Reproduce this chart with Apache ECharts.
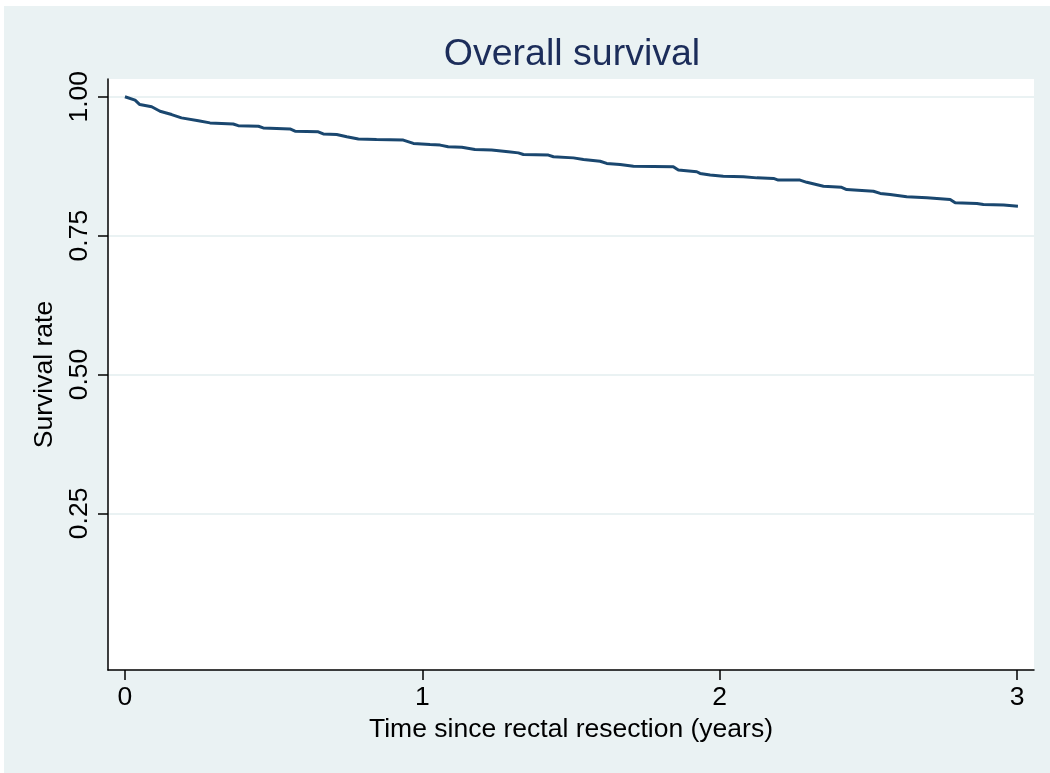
<!DOCTYPE html>
<html>
<head>
<meta charset="utf-8">
<script src="https://cdn.jsdelivr.net/npm/echarts@6/dist/echarts.min.js"></script>
<style>
html,body{margin:0;padding:0;background:#ffffff;}
#chart{position:absolute;left:4px;top:6px;width:1046px;height:767px;}
</style>
</head>
<body>
<div id="chart"></div>
<script>
// Kaplan-Meier estimate
const timeYears = [0,0.034,0.05,0.09,0.118,0.157,0.19,0.247,0.286,0.364,0.381,0.449,0.465,0.555,0.572,0.65,0.667,0.712,0.746,0.785,0.846,0.936,0.97,1.026,1.06,1.087,1.133,1.177,1.233,1.289,1.323,1.34,1.424,1.441,1.508,1.542,1.598,1.62,1.665,1.71,1.844,1.861,1.923,1.934,1.968,2.012,2.08,2.125,2.181,2.197,2.27,2.293,2.349,2.41,2.427,2.517,2.54,2.573,2.629,2.697,2.775,2.792,2.865,2.887,2.955,3.003];
const survival  = [1.0,0.994,0.986,0.982,0.974,0.968,0.962,0.957,0.953,0.951,0.948,0.947,0.944,0.942,0.938,0.937,0.933,0.932,0.928,0.924,0.923,0.922,0.916,0.914,0.913,0.91,0.909,0.905,0.904,0.901,0.899,0.896,0.895,0.892,0.89,0.887,0.884,0.88,0.878,0.875,0.874,0.868,0.865,0.862,0.859,0.857,0.856,0.854,0.853,0.85,0.85,0.846,0.839,0.837,0.833,0.83,0.826,0.824,0.82,0.818,0.815,0.809,0.808,0.806,0.805,0.803];
const xTicks = [0,1,2,3];
const yTicks = [0.25,0.5,0.75,1.0];

const chart = echarts.init(document.getElementById('chart'));
const font = 'Liberation Sans, Helvetica, Arial, sans-serif';
chart.setOption({
  backgroundColor: '#eaf2f3',
  animation: false,
  title: {
    text: 'Overall survival',
    left: 563, top: 25, textAlign: 'center',
    textStyle: {fontFamily: font, fontSize: 37.5, fontWeight: 'normal', color: '#1c2d5a'}
  },
  grid: {left: 104, top: 73, right: 16, bottom: 103, show: true, backgroundColor: '#ffffff', borderWidth: 0},
  xAxis: {
    type: 'value', min: -0.057, max: 3.057,
    name: 'Time since rectal resection (years)', nameLocation: 'middle', nameGap: 45,
    nameTextStyle: {fontFamily: font, fontSize: 26.5, color: '#000'},
    axisLine: {show: true, onZero: false, lineStyle: {color: '#000', width: 1.5}},
    axisTick: {show: true, length: 10, customValues: xTicks, lineStyle: {color: '#000', width: 1.5}},
    axisLabel: {customValues: xTicks, fontFamily: font, fontSize: 26.5, color: '#000', margin: 14},
    splitLine: {show: false}
  },
  yAxis: {
    type: 'value', min: -0.032, max: 1.032,
    name: 'Survival rate', nameLocation: 'middle', nameGap: 47, nameRotate: 90,
    nameTextStyle: {fontFamily: font, fontSize: 26.5, color: '#000'},
    axisLine: {show: true, onZero: false, lineStyle: {color: '#000', width: 1.5}},
    axisTick: {show: true, length: 10, customValues: yTicks, lineStyle: {color: '#000', width: 1.5}},
    axisLabel: {customValues: yTicks, rotate: 90, fontFamily: font, fontSize: 26.5, color: '#000', margin: 15,
      formatter: v => v.toFixed(2)},
    splitLine: {show: true, lineStyle: {color: '#eaf2f3', width: 2}}
  },
  series: [{
    type: 'line', showSymbol: false,
    data: timeYears.map((t, i) => [t, survival[i]]),
    lineStyle: {color: '#1a476f', width: 3}
  }]
});
</script>
</body>
</html>
